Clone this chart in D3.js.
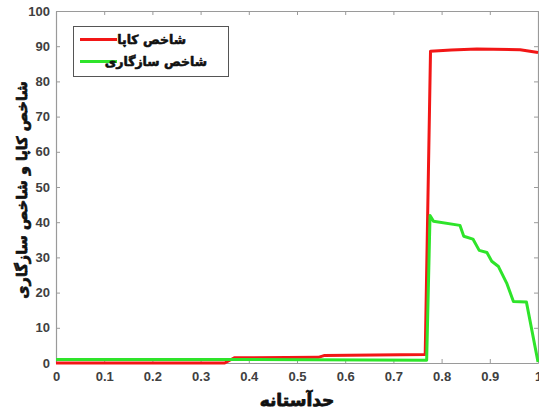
<!DOCTYPE html>
<html>
<head>
<meta charset="utf-8">
<script src="https://cdn.jsdelivr.net/npm/d3@7"></script>
<style>
  html, body { margin: 0; padding: 0; background: #fff; }
  svg { display: block; }
</style>
</head>
<body>
<svg id="chart" width="539" height="419"></svg>
<script>
// Threshold sweep: kappa index and agreement index
const kappaX = [0, 0.35, 0.37, 0.544, 0.556, 0.766, 0.777, 0.82, 0.873, 0.963, 1.0];
const kappaY = [0, 0, 1.5, 1.6, 2.1, 2.4, 88.6, 88.9, 89.2, 89.0, 88.2];

const agreeX = [0, 0.35, 0.769, 0.776, 0.783, 0.838, 0.846, 0.865, 0.878, 0.894, 0.904, 0.918, 0.935, 0.949, 0.976, 1.0];
const agreeY = [1, 1, 0.8, 41.9, 40.3, 39.1, 36.0, 35.2, 32.0, 31.4, 28.9, 27.4, 22.7, 17.5, 17.3, 0.3];

const xTicks = [0, 0.1, 0.2, 0.3, 0.4, 0.5, 0.6, 0.7, 0.8, 0.9, 1];
const yTicks = [0, 10, 20, 30, 40, 50, 60, 70, 80, 90, 100];

const seriesNames = ["شاخص کاپا", "شاخص سازگاری"];
const seriesColors = ["#f21616", "#2ee42a"];
const xTitle = "حدآستانه";
const yTitle = "شاخص کاپا و شاخص سازگاری";

const svg = d3.select("#chart");
const m = { left: 56, right: 538, top: 11, bottom: 363 };

const x = d3.scaleLinear().domain([0, 1]).range([m.left, m.right]);
const y = d3.scaleLinear().domain([0, 100]).range([m.bottom, m.top]);

const axisColor = "#9a9a9a";
const tickTextColor = "#404040";
const numFont = "'Liberation Sans', Arial, sans-serif";
const faFont = "'DejaVu Sans', sans-serif";

function styleAxis(g) {
  g.selectAll(".domain").attr("stroke", axisColor).attr("stroke-width", 1.2);
  g.selectAll(".tick line").attr("stroke", axisColor);
  g.selectAll(".tick text")
    .attr("fill", tickTextColor)
    .attr("font-family", numFont)
    .attr("font-weight", "bold")
    .attr("font-size", 13);
}

// Heavy Persian text: filled and outlined in the same colour
function heavy(t, w) {
  return t.attr("font-family", faFont).attr("font-weight", "bold")
    .attr("fill", "#111").attr("stroke", "#111").attr("stroke-width", w)
    .attr("stroke-linejoin", "round");
}

// Bottom axis with labels
svg.append("g")
  .attr("transform", `translate(0,${m.bottom})`)
  .call(d3.axisBottom(x).tickValues(xTicks).tickFormat(d3.format("")).tickSize(-4).tickSizeOuter(0).tickPadding(9))
  .call(styleAxis);

// Left axis with labels
svg.append("g")
  .attr("transform", `translate(${m.left},0)`)
  .call(d3.axisLeft(y).tickValues(yTicks).tickSize(-4).tickSizeOuter(0).tickPadding(6))
  .call(styleAxis);

// Top and right frame axes, ticks only
svg.append("g")
  .attr("transform", `translate(0,${m.top})`)
  .call(d3.axisTop(x).tickValues(xTicks).tickFormat("").tickSize(-4).tickSizeOuter(0))
  .call(styleAxis);
svg.append("g")
  .attr("transform", `translate(${m.right},0)`)
  .call(d3.axisRight(y).tickValues(yTicks).tickFormat("").tickSize(-4).tickSizeOuter(0))
  .call(styleAxis);

// Series lines
const line = d3.line().x(d => x(d[0])).y(d => y(d[1]));
const series = [
  d3.zip(kappaX, kappaY),
  d3.zip(agreeX, agreeY)
];
series.forEach((pts, i) => {
  svg.append("path")
    .datum(pts)
    .attr("fill", "none")
    .attr("stroke", seriesColors[i])
    .attr("stroke-width", 3)
    .attr("stroke-linejoin", "round")
    .attr("d", line);
});

// Legend
const lg = svg.append("g");
lg.append("rect")
  .attr("x", 73.5).attr("y", 26.5).attr("width", 155).attr("height", 50)
  .attr("fill", "#fff").attr("stroke", "#555").attr("stroke-width", 1);
const legendRight = [186, 207];
seriesNames.forEach((name, i) => {
  const ly = 39.5 + i * 22;
  lg.append("line")
    .attr("x1", 80).attr("x2", 117).attr("y1", ly).attr("y2", ly)
    .attr("stroke", seriesColors[i]).attr("stroke-width", 3);
  lg.append("text")
    .attr("x", legendRight[i]).attr("y", ly + 4)
    .attr("text-anchor", "end")
    .attr("font-size", 12.5)
    .call(heavy, 0.6)
    .text(name);
});

// Axis titles
svg.append("text")
  .attr("x", 297).attr("y", 406)
  .attr("text-anchor", "middle")
  .attr("font-size", 17)
  .call(heavy, 0.8)
  .text(xTitle);

svg.append("text")
  .attr("transform", "translate(27,190) rotate(-90)")
  .attr("text-anchor", "middle")
  .attr("font-size", 14.5)
  .call(heavy, 0.7)
  .text(yTitle);
</script>
</body>
</html>
